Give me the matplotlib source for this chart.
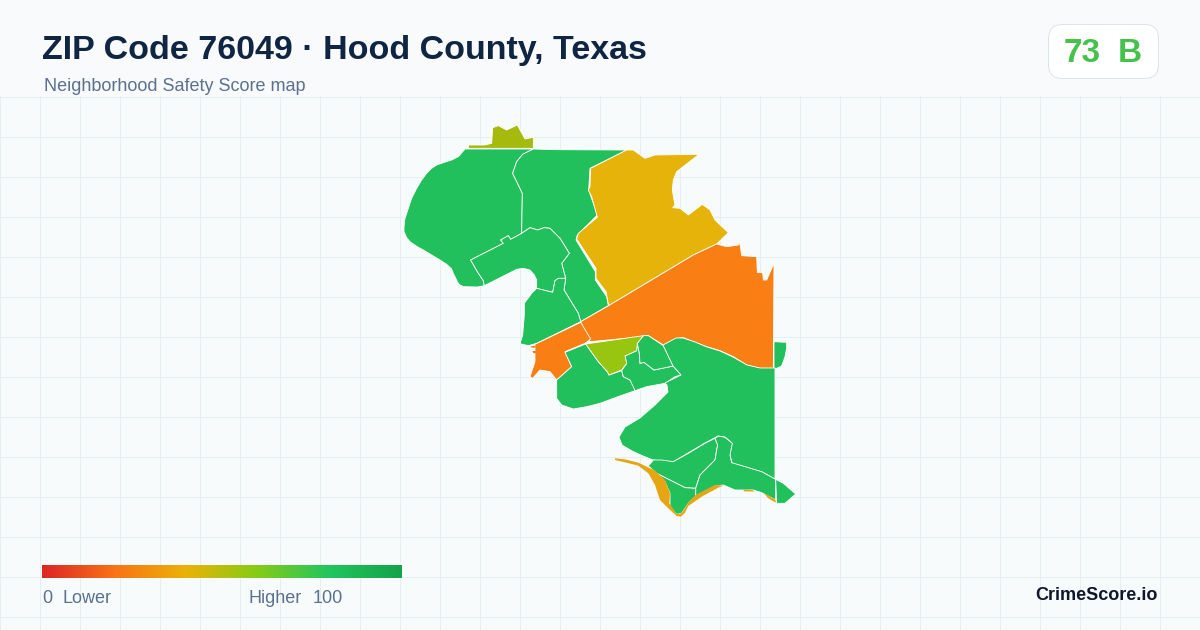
import numpy as np
import matplotlib
matplotlib.use("Agg")
import matplotlib.pyplot as plt
from matplotlib.colors import LinearSegmentedColormap
from matplotlib.patches import FancyBboxPatch, Polygon, Rectangle

plt.rcParams["font.family"] = ["Liberation Sans", "DejaVu Sans"]

TITLE = "ZIP Code 76049 · Hood County, Texas"
SUBTITLE = "Neighborhood Safety Score map"
SCORE = "73"
GRADE = "B"
BRAND = "CrimeScore.io"

GREEN = "#22c05c"
ORANGE = "#f97f14"
GOLD = "#e5b30a"
OLIVE = "#a6ba0e"
LIME = "#98c50f"
COAST = "#e6a512"

# Neighbourhood outlines, (x, y) in each crop's own
# units; crop origins are listed with them.
CROP_NW = (390, 115)
CROP_NE = (570, 140)
CROP_MID = (520, 330)
CROP_S = (605, 420)

north_tip = [(235,100),(235,90),(285,90),(305,85),(308,38),(325,32),(350,45),(382,30),(405,72),(430,67),(430,100)]
west_big = [(225,102),(430,102),(398,118),(380,140),(368,175),(385,210),(397,235),(395,355),(362,373),(355,362),(332,375),(340,385),(242,435),(262,470),(280,497),(283,512),(262,516),(220,515),(207,508),(202,500),(195,485),(190,475),(185,462),(170,448),(150,435),(125,420),(100,405),(80,394),(60,380),(50,368),(42,350),(42,335),(45,310),(55,280),(65,250),(80,220),(95,195),(110,175),(125,160),(140,150),(160,143),(185,135),(205,125)]
north_mid = [(430,102),(495,104),(711,105),(600,160),(596,225),(622,300),(562,360),(558,375),(616,470),(616,495),(650,545),(655,572),(572,620),(565,595),(522,525),(527,490),(515,445),(538,415),(510,370),(480,340),(462,338),(443,345),(420,338),(395,355),(397,235),(385,210),(368,175),(380,140),(398,118)]
centre_arm = [(395,355),(420,338),(443,345),(462,338),(480,340),(510,370),(538,415),(515,445),(527,490),(505,490),(495,497),(488,532),(440,520),(440,495),(433,480),(420,465),(400,460),(380,463),(283,512),(280,497),(262,470),(242,435),(340,385),(332,375),(355,362),(362,373)]
south_lobe = [(440,520),(488,532),(495,497),(505,490),(527,490),(522,525),(565,595),(572,620),(440,685),(415,692),(390,686),(398,660),(403,600),(403,565),(425,535)]
west_orange = [(572,622),(602,672),(585,685),(525,710),(545,755),(500,795),(480,770),(450,765),(428,790),(420,785),(435,740),(435,688)]
orange_bit_a = [(422,694),(437,692),(437,698),(425,698)]
orange_bit_b = [(427,708),(438,708),(438,715),(430,714)]

gold_north = [(170,30),(190,30),(225,55),(255,45),(387,43),(320,95),(310,120),(307,150),(312,180),(315,195),(308,203),(330,205),(355,225),(397,193),(420,210),(435,240),(475,278),(440,312),(370,345),(116,497),(108,455),(78,415),(78,385),(20,297),(25,280),(82,232),(65,170),(55,150),(60,140),(62,85)]
orange_main = [(32,545),(116,497),(370,345),(440,312),(470,320),(505,315),(510,310),(515,347),(560,350),(562,398),(578,398),(580,420),(590,420),(612,370),(610,685),(570,685),(530,675),(490,650),(450,632),(410,620),(370,605),(340,593),(320,595),(280,615),(235,587),(220,590),(60,605)]
east_sliver = [(612,605),(650,607),(650,625),(645,650),(635,678),(620,685),(612,685)]

lime_mid = [(197,42),(370,17),(352,40),(350,62),(315,78),(320,100),(305,120),(267,135),(262,125),(235,95)]
south_west = [(197,42),(135,67),(155,110),(110,150),(110,205),(125,225),(160,237),(200,230),(240,220),(280,205),(345,182),(342,165),(330,150),(310,140),(305,122),(267,135),(262,125),(235,95)]
mid_south = [(305,122),(320,100),(315,78),(350,62),(352,40),(358,70),(360,100),(372,97),(402,120),(460,108),(483,135),(465,140),(435,160),(380,170),(345,182),(330,150),(310,140)]
mid_small = [(370,17),(385,17),(430,47),(460,108),(402,120),(372,97),(360,100),(358,70),(352,40)]

south_east_big = [(663,345),(676,338),(683,338),(695,342),(707,347),(720,351),(733,357),(747,365),(760,368),(773,368),(775,368),(775,479),(762,472),(732,463),(730,455),(732,443),(725,437),(718,436),(705,443),(688,453),(673,462),(662,461),(653,460),(643,456),(632,451),(622,445),(619,437),(625,427),(640,418),(655,405),(668,392),(667,385),(665,383),(681,375),(673,366)]

coast_strip = [(30,115),(60,118),(100,128),(150,152),(180,180),(195,220),(193,250),(215,282),(230,280),(250,248),(272,225),(330,195),(355,197),(340,203),(290,230),(250,258),(240,278),(228,290),(215,288),(190,265),(165,240),(150,195),(130,160),(100,137),(60,127),(30,120)]
coast_bit_a = [(415,209),(445,211),(447,215),(417,214)]
coast_bit_b = [(475,218),(512,240),(512,248),(490,235)]
south_mid = [(145,120),(170,120),(205,125),(250,100),(300,70),(330,55),(338,75),(335,90),(330,120),(285,165),(272,205),(240,203),(155,160),(130,138)]
south_central = [(340,48),(330,55),(338,75),(335,90),(330,120),(285,165),(272,205),(272,228),(330,198),(355,195),(390,210),(445,210),(470,218),(512,240),(512,178),(470,155),(380,128),(375,105),(382,70),(360,52)]
south_west_tip = [(155,160),(240,203),(272,205),(272,228),(250,250),(230,280),(215,283),(195,262),(195,220),(180,185)]
south_east_tip = [(512,178),(535,190),(572,222),(540,250),(515,250)]

REGIONS = [
    (north_tip, CROP_NW, OLIVE),
    (west_big, CROP_NW, GREEN),
    (north_mid, CROP_NW, GREEN),
    (centre_arm, CROP_NW, GREEN),
    (south_lobe, CROP_NW, GREEN),
    (gold_north, CROP_NE, GOLD),
    (orange_main, CROP_NE, ORANGE),
    (west_orange, CROP_NW, ORANGE),
    (east_sliver, CROP_NE, GREEN),
    (south_west, CROP_MID, GREEN),
    (mid_south, CROP_MID, GREEN),
    (mid_small, CROP_MID, GREEN),
    (lime_mid, CROP_MID, LIME),
    (south_east_big, (0, 0), GREEN),
    (south_mid, CROP_S, GREEN),
    (south_central, CROP_S, GREEN),
    (south_west_tip, CROP_S, GREEN),
    (south_east_tip, CROP_S, GREEN),
]
COAST_PARTS = [coast_strip, coast_bit_a, coast_bit_b]
ORANGE_BITS = [orange_bit_a, orange_bit_b]

GRADIENT_STOPS = [(0.0, "#dc2626"), (0.2, "#f97316"), (0.4, "#eab308"),
                  (0.6, "#84cc16"), (0.8, "#22c55e"), (1.0, "#16a34a")]


def place(points, origin):
    x0, y0 = origin
    scale = 1 / 3 if origin != (0, 0) else 1
    return [(x0 + x * scale, y0 + y * scale) for x, y in points]


fig = plt.figure(figsize=(12, 6.3), dpi=100, facecolor="#f8fafc")
ax = fig.add_axes([0, 0, 1, 1])
ax.set_xlim(0, 1200)
ax.set_ylim(630, 0)
ax.axis("off")

# page panel and grid
ax.add_patch(Rectangle((0, 96), 1200, 534, fc="#f8fbfc", ec="none", zorder=0))
for gx in np.arange(0, 1200, 40):
    ax.plot([gx, gx], [96, 630], color="#e6eef2", lw=0.7, zorder=1)
for gy in np.arange(96, 630, 40):
    ax.plot([0, 1200], [gy + 0.75, gy + 0.75], color="#e6eef2", lw=0.7, zorder=1)

# map
for pts, origin, colour in REGIONS:
    ax.add_patch(Polygon(place(pts, origin), closed=True, fc=colour, ec="#ffffff",
                         lw=0.6, joinstyle="round", zorder=3))
for pts in COAST_PARTS:
    ax.add_patch(Polygon(place(pts, CROP_S), closed=True, fc=COAST, ec="none", zorder=4))
for pts in ORANGE_BITS:
    ax.add_patch(Polygon(place(pts, CROP_NW), closed=True, fc=ORANGE, ec="none", zorder=4))

# header
ax.text(42, 51, TITLE, fontsize=24.45, fontweight="bold", color="#0f2542", va="center", ha="left", zorder=6)
ax.text(44, 86.5, SUBTITLE, fontsize=12.96, color="#5a7190", va="center", ha="left", zorder=6)
ax.add_patch(FancyBboxPatch((1048.5 + 14, 24.5 + 14), 110 - 28, 54 - 28,
                            boxstyle="round,pad=14,rounding_size=14",
                            fc="#ffffff", ec="#dde3ea", lw=0.7, zorder=5))
ax.text(1082.5, 53, SCORE, fontsize=24, fontweight="bold", color="#46c24c", va="center", ha="center", zorder=6)
ax.text(1130, 53, GRADE, fontsize=24, fontweight="bold", color="#46c24c", va="center", ha="center", zorder=6)

# legend
cmap = LinearSegmentedColormap.from_list("score", GRADIENT_STOPS)
ax.imshow(np.linspace(0, 1, 360)[None, :], cmap=cmap, extent=(42, 402, 578, 565),
          aspect="auto", zorder=5, interpolation="bilinear")
ax.set_xlim(0, 1200)
ax.set_ylim(630, 0)
ax.text(42, 598.5, "0", fontsize=12.96, color="#5a7190", va="center", ha="left", zorder=6)
ax.text(62, 598.5, "Lower", fontsize=12.96, color="#5a7190", va="center", ha="left", zorder=6)
ax.text(249, 598.5, "Higher", fontsize=12.96, color="#5a7190", va="center", ha="left", zorder=6)
ax.text(313, 598.5, "100", fontsize=12.96, color="#5a7190", va="center", ha="left", zorder=6)
ax.text(1158, 595, BRAND, fontsize=13, fontweight="bold", color="#0f172a", va="center", ha="right", zorder=6)

fig.savefig("out.png", dpi=100, facecolor=fig.get_facecolor())
